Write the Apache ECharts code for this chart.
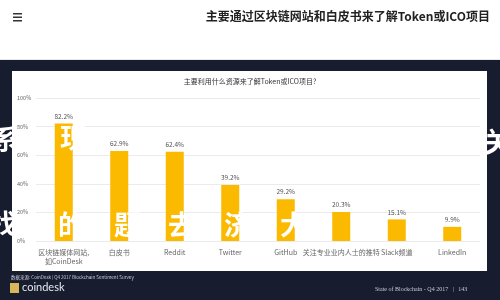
<!DOCTYPE html>
<html><head><meta charset="utf-8">
<script src="https://cdn.jsdelivr.net/npm/echarts@6/dist/echarts.min.js"></script>
<style>html,body{margin:0;padding:0;background:#fff}#c{width:500px;height:300px}</style>
</head><body><div id="c"></div>
<script>
var categories = ['区块链媒体网站,\n如CoinDesk', '白皮书', 'Reddit', 'Twitter', 'GitHub', '关注专业业内人士的推特', 'Slack频道', 'LinkedIn'];
var values = [82.2, 62.9, 62.4, 39.2, 29.2, 20.3, 15.1, 9.9];
var yTicks = [0, 20, 40, 60, 80, 100];
var pageTitle = '主要通过区块链网站和白皮书来了解Token或ICO项目';
var chartTitle = '主要利用什么资源来了解Token或ICO项目?';
var sourceText = '数据来源: CoinDesk | Q4 2017 Blockchain Sentiment Survey';
var footerRight = 'State of Blockchain - Q4 2017   |   143';

var chart = echarts.init(document.getElementById('c'), null, {renderer: 'canvas'});
var font = '"Noto Sans CJK SC", "Noto Sans", sans-serif';
var overlayStyle = {fill: '#ffffff', fontSize: 27, fontWeight: 'bold', fontFamily: font, shadowBlur: 3, shadowColor: 'rgba(255,255,255,0.8)'};
function ov(ch, x, y) { return {type: 'text', z: 100, left: x, top: y, style: Object.assign({text: ch}, overlayStyle)}; }

chart.setOption({
  animation: false,
  textStyle: {fontFamily: font},
  graphic: [
    {type: 'rect', z: -20, shape: {x: 0, y: 0, width: 500, height: 60}, style: {fill: '#ffffff'}},
    {type: 'rect', z: -20, shape: {x: 0, y: 59, width: 500, height: 1}, style: {fill: '#e6e8ee'}},
    {type: 'rect', z: -20, shape: {x: 0, y: 60, width: 500, height: 240}, style: {fill: '#171c2f'}},
    {type: 'rect', z: -10, shape: {x: 12, y: 71, width: 475, height: 200}, style: {fill: '#ffffff'}},
    {type: 'rect', z: -5, shape: {x: 13, y: 13, width: 9, height: 1.5}, style: {fill: '#333'}},
    {type: 'rect', z: -5, shape: {x: 13, y: 16.5, width: 9, height: 1.5}, style: {fill: '#333'}},
    {type: 'rect', z: -5, shape: {x: 13, y: 20, width: 9, height: 1.5}, style: {fill: '#333'}},
    {type: 'text', z: -5, right: 10, top: 10, style: {text: pageTitle, fill: '#222', fontSize: 12, fontWeight: 'bold', fontFamily: font}},
    {type: 'text', z: -5, left: 'center', top: 78, style: {text: chartTitle, fill: '#333', fontSize: 7, fontFamily: font}},
    {type: 'text', z: -5, left: 11, top: 275, style: {text: sourceText, fill: '#c8ccd6', fontSize: 4.5, fontFamily: font}},
    {type: 'rect', z: -5, shape: {x: 10, y: 283, width: 9, height: 10}, style: {fill: '#d9b65a'}},
    {type: 'text', z: -5, left: 22, top: 282, style: {text: 'coindesk', fill: '#e6e8ee', fontSize: 11, fontFamily: 'Lato, sans-serif'}},
    {type: 'text', z: -5, left: 375, top: 286, style: {text: footerRight, fill: '#c8ccd6', fontSize: 6, fontFamily: '"Liberation Serif", serif'}},
    ov('系', -8, 126), ov('现', 60, 124), ov('关', 484, 128),
    ov('找', -10, 210), ov('的', 58, 211), ov('题', 114, 211), ov('去', 168, 211), ov('济', 224, 211), ov('大', 280, 211)
  ],
  grid: {left: 36, right: 20, top: 98, bottom: 59, containLabel: false},
  xAxis: {
    type: 'category',
    data: categories,
    axisLine: {show: false},
    axisTick: {show: false},
    axisLabel: {color: '#666', fontSize: 7, margin: 7, interval: 0, lineHeight: 9}
  },
  yAxis: {
    type: 'value',
    min: yTicks[0], max: yTicks[yTicks.length - 1], interval: 20,
    axisLine: {show: false},
    axisTick: {show: false},
    axisLabel: {color: '#666', fontSize: 5.5, formatter: '{value}%', align: 'left', margin: 19},
    splitLine: {lineStyle: {color: '#ebebeb', width: 1}}
  },
  series: [{
    type: 'bar',
    data: values,
    barWidth: 18,
    itemStyle: {color: '#fbb900'},
    label: {show: true, position: 'top', formatter: '{c}%', fontSize: 6.5, color: '#555', distance: 4}
  }]
});
</script></body></html>
